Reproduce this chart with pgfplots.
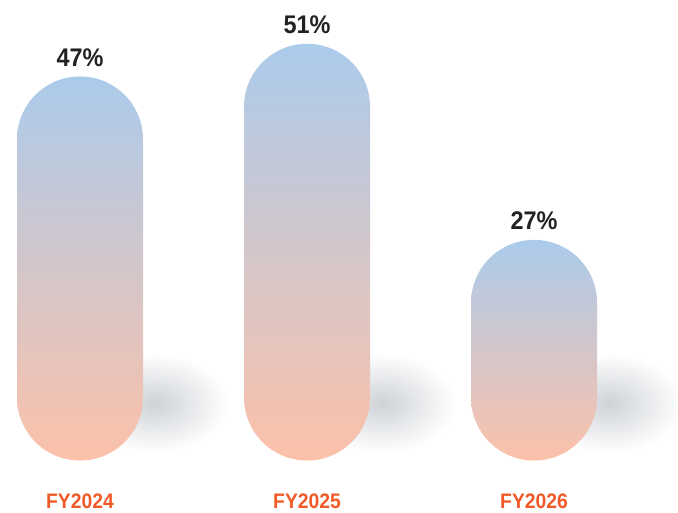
\documentclass[border=0pt]{standalone}
\usepackage{fontspec}
\setmainfont{Liberation Sans}[FakeStretch=0.92]
\usepackage{pgfplots}
\pgfplotsset{compat=1.18}
\definecolor{pilltop}{RGB}{171,203,235}
\definecolor{pillbot}{RGB}{252,193,169}
\definecolor{shadowc}{RGB}{206,210,215}
\definecolor{fyc}{RGB}{241,90,40}
\definecolor{valc}{RGB}{34,34,34}
\pgfdeclareplotmark{softshadow}{%
  \shade[draw=none, rotate=15, inner color=shadowc, outer color=white] (0pt,0pt) ellipse (74pt and 50pt);%
}
\pgfplotsset{
  pill/.style={ybar, bar width=126pt, bar shift=0pt, draw=none, rounded corners=62.9pt,
    top color=pilltop, bottom color=pillbot,
    nodes near coords={\pgfmathprintnumber[assume math mode=true]{\pgfplotspointmeta}\%},
    nodes near coords style={anchor=south, inner sep=0pt, yshift=10pt, text=valc,
      font=\fontsize{25.5}{30}\selectfont\bfseries, rounded corners=0pt}},
}
\begin{document}
\begin{tikzpicture}
\begin{axis}[
  scale only axis,
  width=678pt, height=512pt,
  xmin=-0.3524, xmax=2.634,
  ymin=-6.3, ymax=56.36,
  axis line style={draw=none},
  tick style={draw=none},
  ytick=\empty,
  xtick={0,1,2},
  xticklabels={FY2024,FY2025,FY2026},
  xticklabel style={anchor=base, yshift=3.5pt, inner sep=0pt,
    font=\fontsize{21}{24}\selectfont\bfseries, text=fyc},
  clip mode=individual,
]
\addplot[only marks, mark=softshadow, mark options={draw=none}] coordinates {(0.33,7.0) (1.33,7.0) (2.33,7.0)};
\addplot[pill] coordinates {(0,47)};
\addplot[pill] coordinates {(1,51)};
\addplot[pill] coordinates {(2,27)};
\end{axis}
\pgfresetboundingbox
\useasboundingbox (current axis.south west) rectangle (current axis.north east);
\end{tikzpicture}
\end{document}
